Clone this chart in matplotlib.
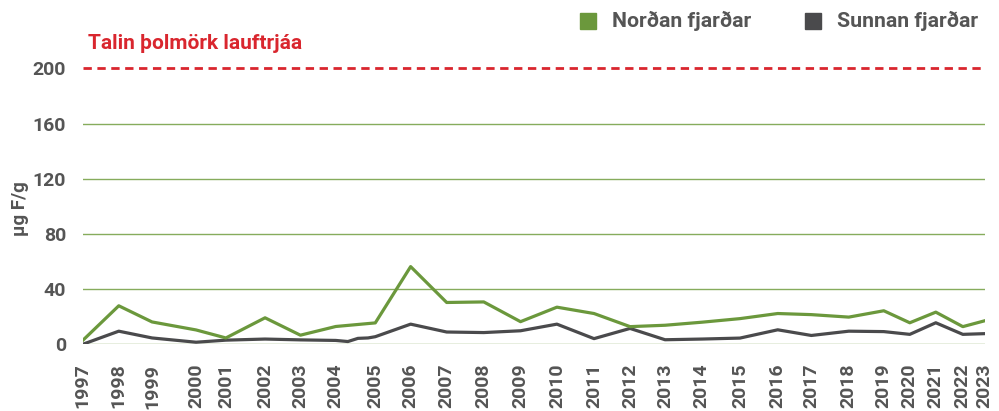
import matplotlib.pyplot as plt
from matplotlib.patches import Rectangle

# sampling times along the time axis (decimal years as laid out on the chart)
x_north = [1997.00, 1998.04, 1999.00, 2000.27, 2001.13, 2002.26, 2003.28, 2004.30, 2005.44,
           2006.46, 2007.50, 2008.57, 2009.63, 2010.68, 2011.75, 2012.79, 2013.80, 2014.86,
           2015.96, 2017.05, 2018.02, 2019.10, 2020.11, 2020.86, 2021.61, 2022.39, 2023.00]
years = [str(y) for y in range(1997, 2024)]

nordan = [2.8, 27.9, 16.2, 10.4, 4.6, 19.2, 6.6, 12.9, 15.5,
          56.3, 30.3, 30.7, 16.4, 26.9, 22.3, 12.8, 13.8, 16.0,
          18.6, 22.3, 21.5, 19.7, 24.3, 15.6, 23.3, 12.8, 16.9]

x_south = [1997.00, 1998.04, 1999.00, 2000.27, 2001.13, 2002.26, 2003.28, 2004.30,
           2004.65, 2004.94, 2005.23, 2005.44,
           2006.46, 2007.50, 2008.57, 2009.63, 2010.68, 2011.75, 2012.79, 2013.80, 2014.86,
           2015.96, 2017.05, 2018.02, 2019.10, 2020.11, 2020.86, 2021.61, 2022.39, 2023.00]
sunnan = [0.0, 9.5, 4.6, 1.5, 3.0, 3.8, 3.2, 2.8,
          2.0, 4.3, 4.6, 5.5,
          14.6, 8.9, 8.5, 9.8, 14.6, 4.1, 11.5, 3.3, 3.8,
          4.5, 10.5, 6.4, 9.5, 9.2, 7.2, 15.6, 7.2, 7.7]

series_names = ['Norðan fjarðar', 'Sunnan fjarðar']
threshold = 200
yticks = [0, 40, 80, 120, 160, 200]

GREEN = '#6b983c'
GRID = '#86ac5c'
DARK = '#4a4a4c'
RED = '#d9262e'
TXT = '#555555'

plt.rcParams['font.family'] = ['Roboto', 'DejaVu Sans']

W, H = 999, 411
fig = plt.figure(figsize=(W / 100, H / 100), dpi=100)
ax = fig.add_axes([0.0828, 0.1623, 0.9032, 0.6883])

for y in yticks[:-1]:
    ax.axhline(y, color=GRID, lw=1.0, zorder=1)
ax.axhline(threshold, color=RED, lw=2.0, dashes=(3, 2), zorder=1)

ax.plot(x_north, nordan, color=GREEN, lw=2.3, zorder=3)
ax.plot(x_south, sunnan, color=DARK, lw=2.3, zorder=2)

ax.set_xlim(1997, 2023.03)
ax.set_ylim(0, 205)
ax.set_yticks(yticks)
ax.set_yticklabels([str(v) for v in yticks], fontsize=14, color=TXT, fontweight='bold')
ax.set_xticks(x_north)
ax.set_xticklabels(years, rotation=90, fontsize=14, color=TXT, fontweight='bold',
                   ha='center', va='top')
ax.tick_params(axis='both', length=0)
ax.tick_params(axis='y', pad=12)
ax.tick_params(axis='x', pad=14)
for s in ax.spines.values():
    s.set_visible(False)

ax.set_ylabel('µg F/g', fontsize=13.5, color=TXT, fontweight='bold')
ax.yaxis.set_label_coords(-0.06, 0.48)

fig.text(0.088, 0.895, 'Talin þolmörk lauftrjáa', color=RED, fontsize=15,
         fontweight='bold', va='center', ha='left')

# legend, drawn by hand in figure pixels
for (sx, tx), name, col in zip([(580, 612), (805, 837)], series_names, [GREEN, DARK]):
    fig.patches.append(Rectangle((sx / W, 1 - 29 / H), 16 / W, 16 / H,
                                 transform=fig.transFigure, color=col))
    fig.text(tx / W, 1 - 21 / H, name, color=TXT, fontsize=15.3, fontweight='bold',
             va='center', ha='left')

fig.savefig('out.png', dpi=100)
